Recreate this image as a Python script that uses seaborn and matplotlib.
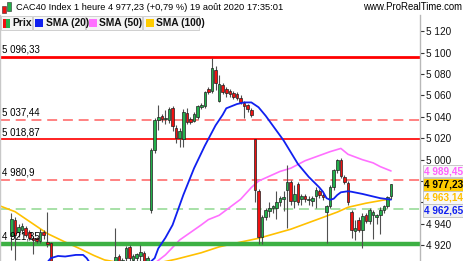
import numpy as np
import pandas as pd
import matplotlib
matplotlib.use("Agg")
import matplotlib.pyplot as plt
import seaborn as sns
from matplotlib.patches import Rectangle

# ---------------- data ----------------
opens = [4929, 4944, 4932, 4934, 4936, 4932, 4927, 4927, 4924, 4932, 4923, 4922,
         4893, 4896, 4892, 4888, 4893, 4897, 4891, 4884, 4888, 4894, 4890, 4887, 4893, 4898, 4895, 4900, 4896,
         4900, 4910, 4899, 4908, 4918, 4906, 4908, 4910, 4913, 4905,
         4953, 5009, 5037, 5041, 5038, 5037, 5048, 5030, 5020, 5019, 5044, 5038, 5036, 5040, 5049, 5050,
         5066, 5064, 5084, 5055, 5070, 5066, 5064, 5062, 5061, 5058, 5053, 5051, 5046,
         5019, 4971, 4928, 4946, 4952, 4955, 4955, 4960, 4963, 4972, 4979, 4961, 4977, 4963, 4966, 4962,
         4961, 4966, 4971, 4967, 4951, 4957, 4974, 4990, 5000, 4984, 4978, 4951, 4933, 4944, 4934, 4948,
         4943, 4948, 4946, 4948, 4953, 4957, 4966]
highs = [4950, 4946, 4940, 4941, 4938, 4934, 4929, 4928, 4935, 4934, 4951, 4923,
         4899, 4901, 4897, 4895, 4900, 4902, 4894, 4890, 4897, 4899, 4893, 4896, 4901, 4902, 4903, 4903, 4902,
         4936, 4912, 4908, 4919, 4920, 4912, 4913, 4920, 4915, 4910,
         5011, 5039, 5051, 5043, 5046, 5049, 5050, 5032, 5030, 5047, 5048, 5040, 5045, 5051, 5053, 5064,
         5068, 5095, 5088, 5079, 5072, 5068, 5066, 5064, 5063, 5060, 5055, 5052, 5048,
         5019, 4973, 4948, 4955, 4960, 4958, 4971, 4966, 4971, 4995, 4981, 4976, 4979, 4968, 4968, 4966,
         4966, 4974, 4973, 4969, 4958, 4976, 4991, 5001, 5002, 4986, 4980, 4953, 4944, 4946, 4950, 4950,
         4955, 4953, 4949, 4956, 4958, 4966, 4977.5]
lows = [4916, 4906, 4928, 4931, 4928, 4925, 4912, 4922, 4922, 4926, 4918, 4888,
        4886, 4890, 4884, 4883, 4890, 4889, 4880, 4879, 4886, 4888, 4883, 4885, 4890, 4891, 4892, 4893, 4890,
        4895, 4895, 4894, 4905, 4903, 4900, 4903, 4904, 4898, 4902,
        4950, 5006, 5028, 5035, 5033, 5034, 5027, 5016, 5012, 5012, 5033, 5033, 5035, 5038, 5047, 5048,
        5061, 5062, 5065, 5054, 5061, 5059, 5059, 5057, 5056, 5052, 5039, 5045, 5040,
        4960, 4921, 4921, 4944, 4946, 4950, 4945, 4957, 4952, 4936, 4958, 4955, 4958, 4958, 4960, 4958,
        4957, 4955, 4964, 4962, 4922, 4955, 4972, 4988, 4983, 4977, 4958, 4927, 4925, 4932, 4917, 4941,
        4940, 4926, 4940, 4931, 4950, 4955, 4963]
closes = [4945, 4930, 4937, 4938, 4930, 4927, 4925, 4924, 4932, 4930, 4921, 4893,
          4896, 4892, 4888, 4893, 4897, 4891, 4884, 4888, 4894, 4890, 4887, 4893, 4898, 4895, 4900, 4896, 4899,
          4909, 4899, 4906, 4917, 4908, 4910, 4912, 4914, 4905, 4908,
          5009, 5037, 5040, 5038, 5039, 5047, 5031, 5020, 5027, 5045, 5035, 5035, 5043, 5050, 5051, 5063,
          5063, 5086, 5072, 5071, 5063, 5062, 5061, 5059, 5058, 5054, 5050, 5047, 5042,
          4972, 4928, 4946, 4953, 4955, 4957, 4960, 4964, 4965, 4979, 4961, 4968, 4960, 4966, 4963, 4963,
          4964, 4972, 4967, 4965, 4957, 4974, 4990, 5000, 4985, 4979, 4960, 4934, 4936, 4934, 4947, 4943,
          4953, 4951, 4948, 4953, 4957, 4965, 4977.23]

sma20_idx = [8, 10, 11, 13, 15, 18, 20, 21, 22, 25, 30, 36, 40, 41, 43, 45, 48, 51, 54, 57, 59, 60, 63,
             65, 67, 69, 71, 76, 80, 83, 86, 87, 88, 89, 90, 91, 92, 94, 95, 98, 103, 106]
sma20_val = [4898, 4904, 4908, 4910, 4909.5, 4911, 4911, 4908, 4903, 4896, 4893, 4896, 4908, 4917, 4927,
             4939, 4967, 4992, 5013, 5032, 5042, 5048, 5052, 5053.5, 5053.5, 5049, 5041, 5018, 4996,
             4984, 4974, 4970, 4964, 4962.5, 4963.5, 4967, 4969.5, 4970.5, 4970, 4968, 4964, 4962.65]
sma50_idx = [38, 43, 47, 53, 55, 58, 64, 67, 69, 75, 78, 82, 89, 92, 94, 98, 101, 103, 106]
sma50_val = [4898, 4911, 4925, 4939, 4944, 4948, 4963, 4974, 4980, 4989, 4992, 4999, 5007.5, 5010.5,
             5005, 5000, 4997, 4993.5, 4989.45]
sma100_idx = [-3, 1, 10, 15, 19, 23, 26, 33, 39, 46, 53, 58, 64, 69, 78, 85, 91, 94, 99, 104, 106]
sma100_val = [4956.5, 4951.4, 4931, 4923, 4917, 4910.5, 4906.3, 4902, 4902, 4907, 4913, 4918.5, 4923,
              4926.5, 4935, 4943.6, 4951, 4955.5, 4959.3, 4962.3, 4963.14]

levels_red_solid = [5096.33, 5018.87]
levels_red_dash = [5037.44, 4980.9]
level_green_dash = 4953.9
level_green_solid = 4921.35
level_labels = {5096.33: "5 096,33", 5037.44: "5 037,44", 5018.87: "5 018,87",
                4980.9: "4 980,9", 4921.35: "4 921,35"}

yticks = [4920, 4940, 4960, 4980, 5000, 5020, 5040, 5060, 5080, 5100, 5120]
ytick_labels = ["4 920", "4 940", "", "", "5 000", "5 020", "5 040", "5 060", "5 080", "5 100", "5 120"]

header = "CAC40 Index 1 heure 4 977,23 (+0,79 %) 19 août 2020 17:35:01"
site = "www.ProRealTime.com"
legend_items = ["Prix", "SMA (20)", "SMA (50)", "SMA (100)"]
price_tags = [("4 989,45", 4989.45), ("4 977,23", 4977.23), ("4 963,14", 4963.14), ("4 962,65", 4962.65)]

# ---------------- style ----------------
sns.set_theme(style="white")
plt.rcParams['font.family'] = ['Liberation Sans', 'DejaVu Sans']

W, H = 464, 261
fig = plt.figure(figsize=(W / 100, H / 100), dpi=100)
fig.patch.set_facecolor("white")

def fx(px):
    return px / W

def fy(py):
    return 1 - py / H

AX_TOP = 15
AX_RIGHT = 420
ax = fig.add_axes([0, 0, fx(AX_RIGHT), (H - AX_TOP) / H])
ax.set_facecolor("white")

GREEN = "#22B04B"
RED = "#F01010"
n = len(closes)
idx = np.arange(n)
df = pd.DataFrame({"i": idx, "o": opens, "h": highs, "l": lows, "c": closes})

# horizontal levels
ax.axhline(levels_red_solid[0], color="#FF0000", lw=2.0, zorder=1)
ax.axhline(levels_red_solid[1], color="#FF1010", lw=1.3, zorder=1)
for lv in levels_red_dash:
    ax.axhline(lv, color="#FF6060", lw=1.1, ls=(0, (6.5, 3.8)), zorder=1)
ax.axhline(level_green_dash, color="#90D890", lw=1.1, ls=(0, (6.5, 3.8)), zorder=1)
ax.axhline(level_green_solid, color="#3CB043", lw=3.2, zorder=2.5)

# SMA lines via seaborn
s20 = pd.DataFrame({"i": sma20_idx, "v": sma20_val})
s50 = pd.DataFrame({"i": sma50_idx, "v": sma50_val})
s100 = pd.DataFrame({"i": sma100_idx, "v": sma100_val})
sns.lineplot(data=s100, x="i", y="v", ax=ax, color="#FFC000", lw=1.2, zorder=2)
sns.lineplot(data=s50, x="i", y="v", ax=ax, color="#FF70FF", lw=1.2, zorder=2)
sns.lineplot(data=s20, x="i", y="v", ax=ax, color="#1020F0", lw=1.3, zorder=4)

# candles
ax.vlines(df["i"], df["l"], df["h"], color="#505050", lw=0.8, zorder=3)
up = df["c"] >= df["o"]
bw = 0.72
for mask, col in ((up, GREEN), (~up, RED)):
    d = df[mask]
    bottom = np.minimum(d["o"], d["c"])
    height = np.maximum(np.abs(d["c"] - d["o"]), 0.9)
    ax.bar(d["i"], height, bottom=bottom, width=bw, color=col, edgecolor="#202020",
           linewidth=0.5, zorder=3.5)

ax.set_xlim(-3.2, 114.1)
ax.set_ylim(4905.3, 5135.2)
ax.set_xlabel("")
ax.set_ylabel("")
ax.set_xticks([])

# level labels
tr = ax.get_yaxis_transform()
for lv, lab in level_labels.items():
    ax.annotate(lab, xy=(0.004, lv), xycoords=tr, xytext=(0, 1.6), textcoords="offset points",
                ha="left", va="bottom", fontsize=7, color="#000000", zorder=5)

# y-axis on the right
ax.yaxis.tick_right()
ax.set_yticks(yticks)
ax.set_yticklabels(ytick_labels)
ax.tick_params(axis="y", which="major", length=3, width=0.8, pad=1.5, labelsize=7.2,
               colors="#333333", labelcolor="#111111", right=True, left=False)
for s in ("top", "bottom"):
    ax.spines[s].set_visible(False)
ax.spines["right"].set_color("#B8B8B8")
ax.spines["right"].set_linewidth(1.0)
ax.spines["left"].set_color("#C8C8C8")
ax.spines["left"].set_linewidth(1.0)

# price tags on the right
tag_styles = [("#FF60FF", "#F8F8F8", 171), ("#000000", "#FFCC00", 184.5),
              ("#FFC000", "#F8F8F8", 197.5), ("#1020F0", "#F0F0F0", 210.5)]
for (lab, val), (tc, bg, py) in zip(price_tags, tag_styles):
    fig.text(fx(424), fy(py), lab, ha="left", va="center", fontsize=7.2, color=tc,
             fontweight="bold",
             bbox=dict(boxstyle="square,pad=0.12", facecolor=bg, edgecolor="#C0C0C0", linewidth=0.6))

# header
fig.text(fx(16), fy(7.5), header, ha="left", va="center", fontsize=6.7, color="#000000")
fig.text(fx(462), fy(7.5), site, ha="right", va="center", fontsize=6.9, color="#000000")
# header icon
fig.patches.append(Rectangle((fx(2), fy(13)), fx(4), 7 / H, transform=fig.transFigure,
                             facecolor=RED, edgecolor="#303030", lw=0.4))
fig.patches.append(Rectangle((fx(7), fy(11)), fx(4), 9 / H, transform=fig.transFigure,
                             facecolor=GREEN, edgecolor="#303030", lw=0.4))

# legend boxes
boxes = [(1, 32), (33, 85), (86, 142), (143, 199)]
swatch = [None, "#1020F0", "#FF70FF", "#FFCC00"]
for (x0, x1), lab, sw in zip(boxes, legend_items, swatch):
    fig.patches.append(Rectangle((fx(x0), fy(30)), fx(x1 - x0), 14 / H, transform=fig.transFigure,
                                 facecolor="#F4F4F4", edgecolor="#C8C8C8", lw=0.6, zorder=5))
    if sw is None:
        fig.patches.append(Rectangle((fx(3), fy(27.5)), fx(3.5), 9 / H, transform=fig.transFigure,
                                     facecolor=RED, edgecolor="none", zorder=6))
        fig.patches.append(Rectangle((fx(6.5), fy(27.5)), fx(3.5), 9 / H, transform=fig.transFigure,
                                     facecolor=GREEN, edgecolor="none", zorder=6))
        tx = 12.5
    else:
        fig.patches.append(Rectangle((fx(x0 + 2.5), fy(27)), fx(8), 8 / H, transform=fig.transFigure,
                                     facecolor=sw, edgecolor="none", zorder=6))
        tx = x0 + 13
    fig.text(fx(tx), fy(23), lab, ha="left", va="center", fontsize=7.4, fontweight="bold",
             color="#111111", zorder=7)

fig.savefig("out.png", dpi=100, facecolor="white")
